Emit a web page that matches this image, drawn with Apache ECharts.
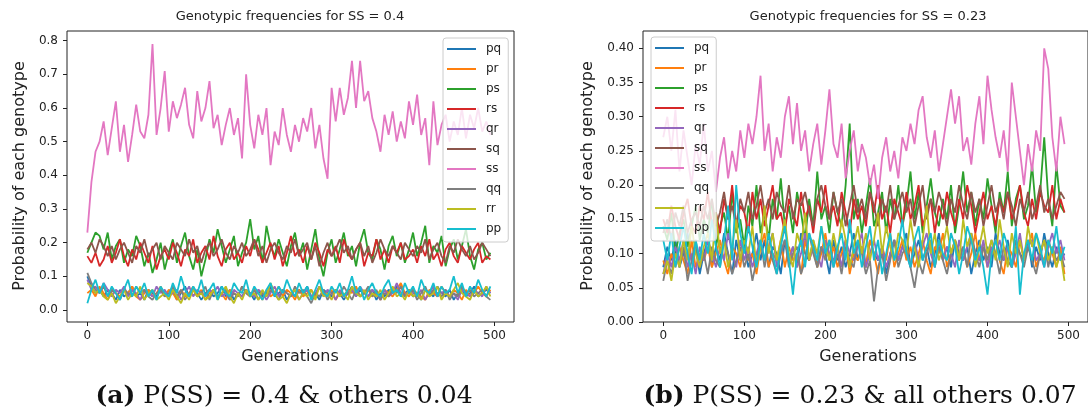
<!DOCTYPE html>
<html>
<head>
<meta charset="utf-8">
<script src="https://cdn.jsdelivr.net/npm/echarts@6.0.0/dist/echarts.min.js"></script>
<style>
  html, body { margin: 0; padding: 0; background: #fff; }
  #chart { width: 1088px; height: 418px; }
</style>
</head>
<body>
<div id="chart"></div>
<script>
// genotype names, in plotting order
var names = ['pq', 'pr', 'ps', 'rs', 'qr', 'sq', 'ss', 'qq', 'rr', 'pp'];
var colors = ['#1f77b4', '#ff7f0e', '#2ca02c', '#d62728', '#9467bd', '#8c564b', '#e377c2', '#7f7f7f', '#bcbd22', '#17becf'];

var xTicks = [0, 100, 200, 300, 400, 500];
var yTicksA = [0, 0.1, 0.2, 0.3, 0.4, 0.5, 0.6, 0.7, 0.8];
var yTicksB = [0, 0.05, 0.1, 0.15, 0.2, 0.25, 0.3, 0.35, 0.4];

// values, in percent, one every 5 generations
// (a) SS = 0.4
var pqA = [10,7,5,6,4,6,5,3,6,4,5,7,4,5,3,6,5,4,6,5,
  4,6,3,5,7,4,6,5,3,5,6,4,5,7,4,6,3,5,4,6,
  5,3,6,4,5,7,4,5,6,3,5,4,6,5,7,4,5,3,6,5,
  4,6,5,3,5,7,4,6,5,4,6,3,5,4,6,5,7,4,5,6,
  4,5,3,6,5,4,7,5,4,6,3,5,6,4,5,7,4,5,6,5];
var prA = [5,6,4,7,5,3,6,5,4,6,5,7,4,3,5,6,4,5,7,4,
  6,5,3,6,4,5,7,4,6,3,5,6,4,5,3,6,5,4,7,5,
  4,6,5,3,6,4,5,7,4,6,5,3,6,4,5,6,4,7,5,4,
  6,3,5,4,6,5,7,4,5,6,4,5,3,6,5,4,6,8,5,4,
  6,5,4,3,6,5,4,7,5,4,6,5,3,6,4,5,7,5,4,6];
var psA = [17,20,23,22,18,23,15,19,21,14,18,16,22,19,13,17,11,15,20,12,
  17,21,14,19,23,16,12,18,10,15,21,17,24,19,14,18,22,13,17,20,
  27,18,22,14,25,19,16,21,17,13,19,23,16,20,12,18,24,15,10,17,
  21,14,18,23,16,19,13,20,24,17,15,21,18,12,19,22,16,20,14,18,
  23,16,20,25,14,19,17,22,13,18,21,15,19,24,16,12,18,20,15,17];
var rsA = [16,14,17,13,15,19,14,17,21,16,13,18,15,20,17,14,19,12,16,18,
  15,20,17,13,18,16,21,14,17,19,15,22,16,13,18,20,15,17,14,19,
  16,21,18,14,17,20,15,19,13,17,22,16,18,14,19,15,20,17,13,18,
  16,19,14,21,17,15,18,20,13,17,16,21,15,18,14,19,17,20,15,16,
  18,14,19,16,21,15,17,13,18,20,16,14,19,17,15,18,20,14,16,15];
var qrA = [9,6,7,5,8,6,4,6,5,7,4,6,5,3,6,5,4,7,5,6,
  4,5,6,3,5,7,4,6,5,4,6,5,7,4,5,3,6,5,4,6,
  5,4,6,5,3,5,7,4,6,5,4,6,3,5,6,4,5,7,4,6,
  5,3,6,4,5,6,4,7,5,4,6,5,3,6,4,5,8,5,4,6,
  5,4,6,3,5,7,4,5,6,4,5,3,6,5,4,6,5,4,7,5];
var sqA = [18,20,17,21,19,16,19,15,18,20,17,14,19,17,21,16,18,20,15,19,
  17,15,20,18,16,21,17,19,14,18,20,16,18,21,17,15,19,17,20,16,
  18,21,16,19,14,18,20,17,15,19,17,21,16,18,20,15,19,13,17,20,
  16,18,21,17,19,15,18,20,16,19,14,17,21,18,16,19,17,15,20,18,
  16,19,17,21,15,18,20,16,14,19,17,21,18,16,19,15,17,20,18,16];
var ssA = [23,38,47,50,56,46,54,62,47,55,
  44,52,61,53,51,58,79,52,60,71,
  53,62,57,61,66,55,51,65,56,60,
  68,54,58,49,55,60,52,57,45,70,
  55,48,58,52,60,43,53,49,60,52,
  47,55,50,57,53,60,48,55,45,39,
  66,56,66,58,63,74,60,74,62,65,
  57,53,47,58,52,59,50,56,51,62,
  55,64,52,57,43,62,49,55,58,50,
  56,52,60,51,58,54,60,53,56,52];
var qqA = [11,8,6,5,7,4,6,5,3,6,5,4,7,5,6,4,3,5,6,4,
  5,7,4,6,3,5,6,4,5,7,3,6,4,5,6,3,5,4,7,5,
  4,6,3,5,4,6,5,3,6,5,4,7,5,6,4,2,5,4,6,3,
  5,6,4,7,5,3,6,4,5,7,4,6,3,5,4,6,5,7,4,5,
  6,3,5,7,4,6,5,4,6,3,5,4,7,5,6,4,5,6,4,3];
var rrA = [8,7,5,6,4,3,5,2,4,6,3,5,4,7,3,5,6,3,4,5,
  3,6,4,2,5,3,6,4,5,3,4,6,3,5,7,4,2,5,3,6,
  4,5,3,6,4,8,5,3,4,2,5,6,3,5,4,6,3,7,4,5,
  3,6,4,5,3,7,5,4,6,3,5,4,6,3,5,7,4,5,3,6,
  4,5,3,6,4,5,7,3,5,4,6,8,5,4,3,6,4,5,7,4];
var ppA = [2,6,9,5,8,4,7,5,3,6,9,4,7,5,8,4,6,3,7,5,
  4,8,5,10,6,4,7,5,9,4,6,8,3,7,5,4,8,6,5,9,
  4,7,5,3,6,8,4,7,5,9,6,4,8,5,7,3,6,9,5,4,
  7,5,8,4,6,10,5,7,3,6,8,5,4,7,9,5,6,4,8,5,
  7,4,9,6,5,8,4,7,5,6,10,5,8,4,7,5,9,6,4,7];

// (b) SS = 0.23
var pqB = [8,11,9,12,8,10,13,9,11,7, 10,12,8,11,9,13,10,7,12,9,
  11,8,10,13,9,12,8,11,10,7, 12,9,11,8,13,10,9,12,8,11,
  10,7,12,9,11,8,10,13,9,11, 8,12,10,9,11,7,10,12,9,11,
  13,8,10,12,9,11,8,10,13,9, 11,8,12,10,9,11,7,10,12,9,
  11,8,13,10,9,12,8,11,10,9, 12,8,11,9,13,10,8,11,9,10];
var prB = [9,7,10,8,11,9,7,12,8,10, 9,11,8,10,12,9,7,11,10,8,
  12,9,10,7,11,13,8,10,9,12, 8,11,9,10,7,12,9,11,8,10,
  13,9,11,8,10,12,7,10,9,11, 8,12,10,7,11,9,13,8,10,12,
  9,11,8,10,12,9,7,11,10,13, 8,10,12,9,11,8,10,13,9,11,
  8,10,12,9,7,11,10,8,12,9, 11,13,8,10,9,12,10,8,11,7];
var psB = [14,12,16,10,13,15,11,14,17,12, 15,13,18,11,14,16,12,19,13,15,
  11,17,14,20,13,16,12,18,15,21, 14,17,13,19,16,12,18,14,22,15,
  17,13,19,16,14,20,29,15,18,13, 17,21,14,16,19,13,18,15,20,14,
  17,22,15,19,13,17,21,16,14,18, 15,20,13,17,22,16,19,14,18,15,
  21,17,13,19,16,22,14,18,20,15, 17,23,16,19,27,18,14,23,17,16];
var rsB = [15,13,17,14,12,16,18,14,13,17, 15,19,14,16,13,18,15,20,14,17,
  16,13,19,15,18,14,17,20,15,16, 13,18,16,14,19,15,17,13,18,16,
  20,15,17,14,19,16,13,18,15,17, 14,19,16,20,15,17,13,18,16,14,
  19,15,17,20,14,16,18,13,17,15, 19,16,14,18,15,20,17,13,16,19,
  15,17,14,18,16,19,15,17,20,16, 14,18,15,19,17,16,20,15,18,16];
var qrB = [7,10,8,11,9,12,8,10,7,11, 9,12,10,8,11,9,13,10,8,12,
  9,11,8,10,12,9,11,13,8,10, 12,9,11,8,10,13,9,11,10,8,
  12,10,9,11,8,12,10,9,11,13, 8,10,12,9,11,8,10,12,9,11,
  10,8,12,9,11,13,10,8,12,9, 11,10,8,12,9,11,13,10,9,12,
  8,11,10,12,9,11,8,10,13,9, 11,12,9,10,8,11,13,10,12,9];
var sqB = [13,15,12,16,14,17,13,15,16,14, 17,15,18,14,16,19,15,17,14,18,
  16,19,15,17,20,16,18,15,19,17, 16,20,15,18,17,19,16,14,18,20,
  17,15,19,16,18,14,17,20,16,18, 15,19,17,14,18,16,20,15,17,19,
  16,18,14,17,20,15,18,16,19,17, 14,18,16,20,17,15,19,16,18,14,
  17,20,16,18,15,19,17,14,18,16, 19,15,17,20,16,18,15,17,19,18];
var ssB = [27,30,25,31,22,28,24,20,26,23,
  29,22,25,19,24,27,21,25,22,28,
  24,29,26,30,36,25,29,22,27,24,
  30,33,26,32,25,28,22,26,29,23,
  28,34,26,24,29,21,25,28,22,26,
  24,20,23,18,24,27,22,25,21,27,
  25,29,26,31,33,27,24,28,22,26,
  30,34,29,33,25,27,23,29,33,26,
  36,31,27,24,28,22,35,30,25,20,
  26,22,28,25,40,37,27,22,30,26];
var qqB = [6,9,7,10,8,11,6,9,12,8, 10,7,11,9,8,12,10,7,9,11,
  8,10,6,9,12,8,11,9,7,10, 12,8,10,11,7,9,13,10,8,11,
  9,12,8,10,7,11,9,8,12,10, 7,9,3,8,10,6,9,12,8,10,
  11,8,5,9,7,10,12,8,11,9, 7,10,12,9,11,8,13,10,8,11,
  9,12,10,7,11,9,8,12,10,8, 11,9,7,10,12,8,11,9,10,8];
var rrB = [7,9,6,10,8,12,9,14,10,8, 11,13,9,16,10,12,8,11,15,9,
  12,10,14,8,11,17,10,13,9,12, 15,10,8,13,11,16,9,12,10,14,
  11,9,13,10,15,12,8,11,14,10, 13,9,12,16,10,14,11,9,13,12,
  10,15,11,8,12,17,10,13,9,11, 14,10,12,9,15,11,13,8,11,14,
  10,12,9,15,11,8,13,10,12,9, 14,11,13,10,12,9,11,8,10,6];
var ppB = [12,9,13,8,11,14,10,7,12,9, 13,10,15,11,8,12,17,9,20,13,
  10,14,11,8,12,9,13,10,7,11, 14,9,4,10,12,8,13,11,9,14,
  10,12,8,11,13,9,15,10,12,8, 11,14,9,12,7,10,13,9,11,15,
  10,8,12,14,9,11,13,8,12,10, 9,13,11,7,10,14,12,9,11,8,
  4,10,12,9,13,11,8,14,4,10, 12,9,13,11,8,12,10,14,9,11];

var dataA = [pqA, prA, psA, rsA, qrA, sqA, ssA, qqA, rrA, ppA];
var dataB = [pqB, prB, psB, rsB, qrB, sqB, ssB, qqB, rrB, ppB];

function toPoints(vals) {
  return vals.map(function (v, i) { return [i * 5, v / 100]; });
}

var series = [];
[dataA, dataB].forEach(function (set, g) {
  set.forEach(function (vals, k) {
    series.push({
      name: names[k],
      type: 'line',
      xAxisIndex: g,
      yAxisIndex: g,
      data: toPoints(vals),
      symbol: 'none',
      color: colors[k],
      lineStyle: { width: 1.8, color: colors[k] },
      animation: false
    });
  });
});

var tickFont = { fontFamily: 'DejaVu Sans', fontSize: 12, color: '#222' };

function xAx(g) {
  return {
    type: 'value', gridIndex: g, min: -25, max: 524,
    splitLine: { show: false },
    axisLine: { show: false, onZero: false },
    axisTick: { customValues: xTicks, length: 4, lineStyle: { color: '#222' } },
    axisLabel: Object.assign({ customValues: xTicks, margin: 8 }, tickFont)
  };
}
function yAx(g, min, max, ticks, dec) {
  return {
    type: 'value', gridIndex: g, min: min, max: max,
    splitLine: { show: false },
    axisLine: { show: false, onZero: false },
    axisTick: { customValues: ticks, length: 4, lineStyle: { color: '#222' } },
    axisLabel: Object.assign({ customValues: ticks, margin: 9,
      formatter: function (v) { return v.toFixed(dec); } }, tickFont)
  };
}

function legendAt(left, top) {
  return {
    data: names, left: left, top: top, orient: 'vertical',
    icon: 'rect', itemWidth: 29, itemHeight: 2, itemGap: 6,
    padding: [4, 7, 6, 4],
    backgroundColor: 'rgba(255,255,255,0.8)',
    borderColor: '#ccc', borderWidth: 1, borderRadius: 3,
    selectedMode: false,
    textStyle: { fontFamily: 'DejaVu Sans', fontSize: 12, color: '#222', lineHeight: 14, padding: [0, 0, 0, 5] }
  };
}

function txt(x, y, text, size, rot) {
  return {
    type: 'text', x: x, y: y, rotation: rot || 0,
    style: { text: text, font: size + 'px "DejaVu Sans"', fill: '#222', textAlign: 'center', textVerticalAlign: 'middle' }
  };
}
function caption(x, y, tag, rest) {
  return {
    type: 'text', x: x, y: y,
    style: {
      text: '{b|' + tag + '} ' + rest,
      font: '25px "DejaVu Serif"', fill: '#111',
      textAlign: 'center', textVerticalAlign: 'middle',
      rich: { b: { fontWeight: 'bold', fontFamily: 'DejaVu Serif', fontSize: 25 } }
    }
  };
}

var chart = echarts.init(document.getElementById('chart'));
chart.setOption({
  animation: false,
  backgroundColor: '#fff',
  grid: [
    { left: 67, top: 31, width: 447, height: 291, show: true, borderColor: '#222', borderWidth: 1 },
    { left: 643, top: 31, width: 447, height: 291, show: true, borderColor: '#222', borderWidth: 1 }
  ],
  xAxis: [xAx(0), xAx(1)],
  yAxis: [yAx(0, -0.0357, 0.8288, yTicksA, 1), yAx(1, 0, 0.4253, yTicksB, 2)],
  legend: [legendAt(443, 38), legendAt(651, 37)],
  series: series,
  graphic: [
    txt(290, 17, 'Genotypic frequencies for SS = 0.4', 13),
    txt(868, 17, 'Genotypic frequencies for SS = 0.23', 13),
    txt(20, 176, 'Probability of each genotype', 16, Math.PI / 2),
    txt(588, 176, 'Probability of each genotype', 16, Math.PI / 2),
    txt(290, 357, 'Generations', 16),
    txt(868, 357, 'Generations', 16),
    caption(284, 396, '(a)', 'P(SS) = 0.4 & others 0.04'),
    caption(860, 396, '(b)', 'P(SS) = 0.23 & all others 0.07')
  ]
});
</script>
</body>
</html>
